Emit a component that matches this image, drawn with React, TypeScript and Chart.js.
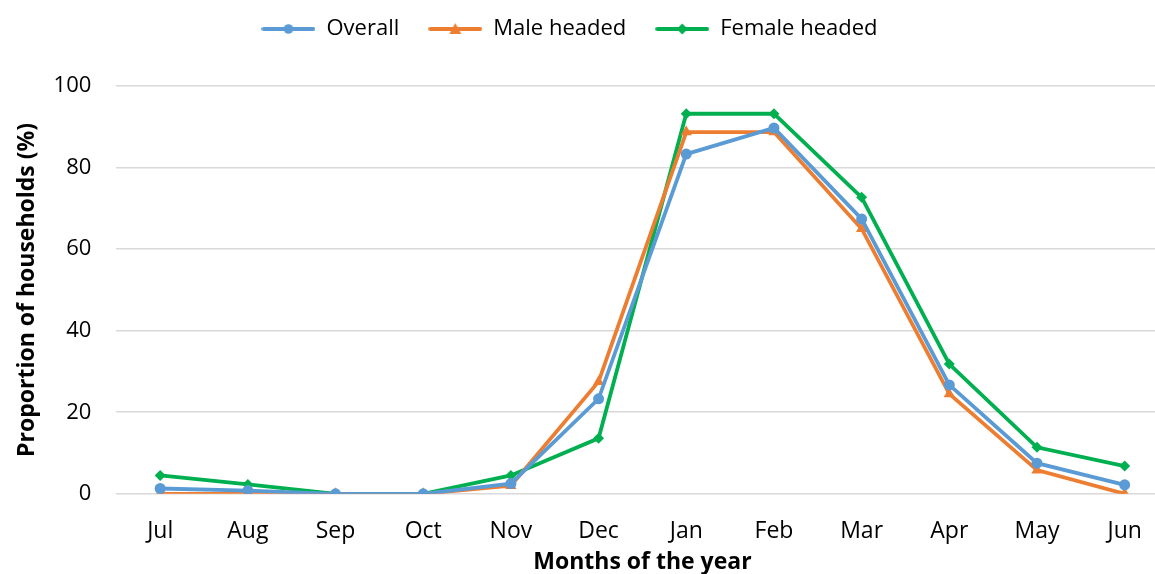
import React, { useEffect, useRef } from "react";
import { Chart, registerables } from "chart.js";

Chart.register(...registerables);

const months = ["Jul", "Aug", "Sep", "Oct", "Nov", "Dec", "Jan", "Feb", "Mar", "Apr", "May", "Jun"];
const overall = [1.3, 0.8, 0, 0, 2.5, 23.3, 83.3, 89.7, 67.4, 26.7, 7.5, 2.2];
const maleHeaded = [0, 0, 0, 0, 2.0, 27.5, 88.7, 88.7, 65.0, 24.5, 5.8, 0];
const femaleHeaded = [4.5, 2.3, 0, 0, 4.5, 13.6, 93.2, 93.2, 72.7, 31.8, 11.4, 6.8];
const seriesNames = ["Overall", "Male headed", "Female headed"];
const colors = ["#5B9BD5", "#ED7D31", "#00B050"];
const markers = ["circle", "triangle", "rectRot"];

const FONT = "'Open Sans', sans-serif";

function makeSample(color: string, marker: string): HTMLCanvasElement {
  const c = document.createElement("canvas");
  c.width = 54;
  c.height = 14;
  const ctx = c.getContext("2d")!;
  ctx.strokeStyle = color;
  ctx.lineWidth = 3.8;
  ctx.lineCap = "round";
  ctx.beginPath();
  ctx.moveTo(2, 7);
  ctx.lineTo(52, 7);
  ctx.stroke();
  ctx.fillStyle = color;
  ctx.beginPath();
  if (marker === "circle") {
    ctx.arc(27, 7, 4.8, 0, Math.PI * 2);
  } else if (marker === "triangle") {
    ctx.moveTo(27, 1);
    ctx.lineTo(33, 12);
    ctx.lineTo(21, 12);
    ctx.closePath();
  } else {
    ctx.moveTo(27, 1.5);
    ctx.lineTo(32.5, 7);
    ctx.lineTo(27, 12.5);
    ctx.lineTo(21.5, 7);
    ctx.closePath();
  }
  ctx.fill();
  return c;
}

const legendSpacer = {
  id: "legendSpacer",
  beforeLayout(chart: any) {
    const lg = chart.legend;
    if (lg && !lg.__patched) {
      const orig = lg.fit;
      lg.fit = function () {
        orig.call(this);
        this.height += 36;
      };
      lg.__patched = true;
    }
  },
  afterLayout(chart: any) {
    const lg = chart.legend;
    if (lg) {
      lg.left -= 18;
      lg.right -= 18;
    }
  },
};

export default function App() {
  const ref = useRef<HTMLCanvasElement | null>(null);
  useEffect(() => {
    if (!ref.current) return;
    const samples = colors.map((c, i) => makeSample(c, markers[i]));
    const values = [overall, maleHeaded, femaleHeaded];
    const chart = new Chart(ref.current, {
      type: "line",
      plugins: [legendSpacer],
      data: {
        labels: months,
        datasets: values.map((d, i) => ({
          label: seriesNames[i],
          data: d,
          borderColor: colors[i],
          backgroundColor: colors[i],
          borderWidth: 3.8,
          pointStyle: markers[i] as any,
          pointRadius: i === 1 ? 6.5 : 5.5,
          pointBorderWidth: 0,
          pointBackgroundColor: colors[i],
          tension: 0,
        })),
      },
      options: {
        animation: false,
        responsive: true,
        maintainAspectRatio: false,
        layout: { padding: { left: 0, right: 0, top: -11, bottom: 0 } },
        plugins: {
          tooltip: { enabled: false },
          legend: {
            position: "top",
            labels: {
              usePointStyle: true,
              pointStyleWidth: 54,
              padding: 29,
              color: "#000",
              font: { family: FONT, size: 22 },
              generateLabels: (ch: any) =>
                ch.data.datasets.map((ds: any, i: number) => ({
                  text: ds.label,
                  pointStyle: samples[i],
                  fillStyle: colors[i],
                  strokeStyle: colors[i],
                  lineWidth: 0,
                  hidden: false,
                  datasetIndex: i,
                  fontColor: "#000",
                })),
            },
          },
        },
        scales: {
          x: {
            offset: true,
            grid: { display: false, offset: true },
            border: { display: false },
            ticks: { color: "#000", font: { family: FONT, size: 23 }, padding: 16 },
            title: {
              display: true,
              text: "Months of the year",
              color: "#000",
              font: { family: FONT, size: 23, weight: "bold" },
              padding: { top: -13, bottom: -2 },
            },
          },
          y: {
            min: 0,
            max: 100,
            border: { display: false },
            grid: { color: "#D9D9D9", lineWidth: 1.5, drawTicks: false },
            ticks: { stepSize: 20, color: "#000", font: { family: FONT, size: 22 }, padding: 25 },
            title: {
              display: true,
              text: "Proportion of households (%)",
              color: "#000",
              font: { family: FONT, size: 23, weight: "bold" },
              padding: { top: 14, bottom: -13 },
            },
          },
        },
      },
    });
    return () => chart.destroy();
  }, []);
  return (
    <div style={{ position: "fixed", left: 0, top: 0, width: 1175, height: 574 }}>
      <canvas ref={ref} />
    </div>
  );
}
